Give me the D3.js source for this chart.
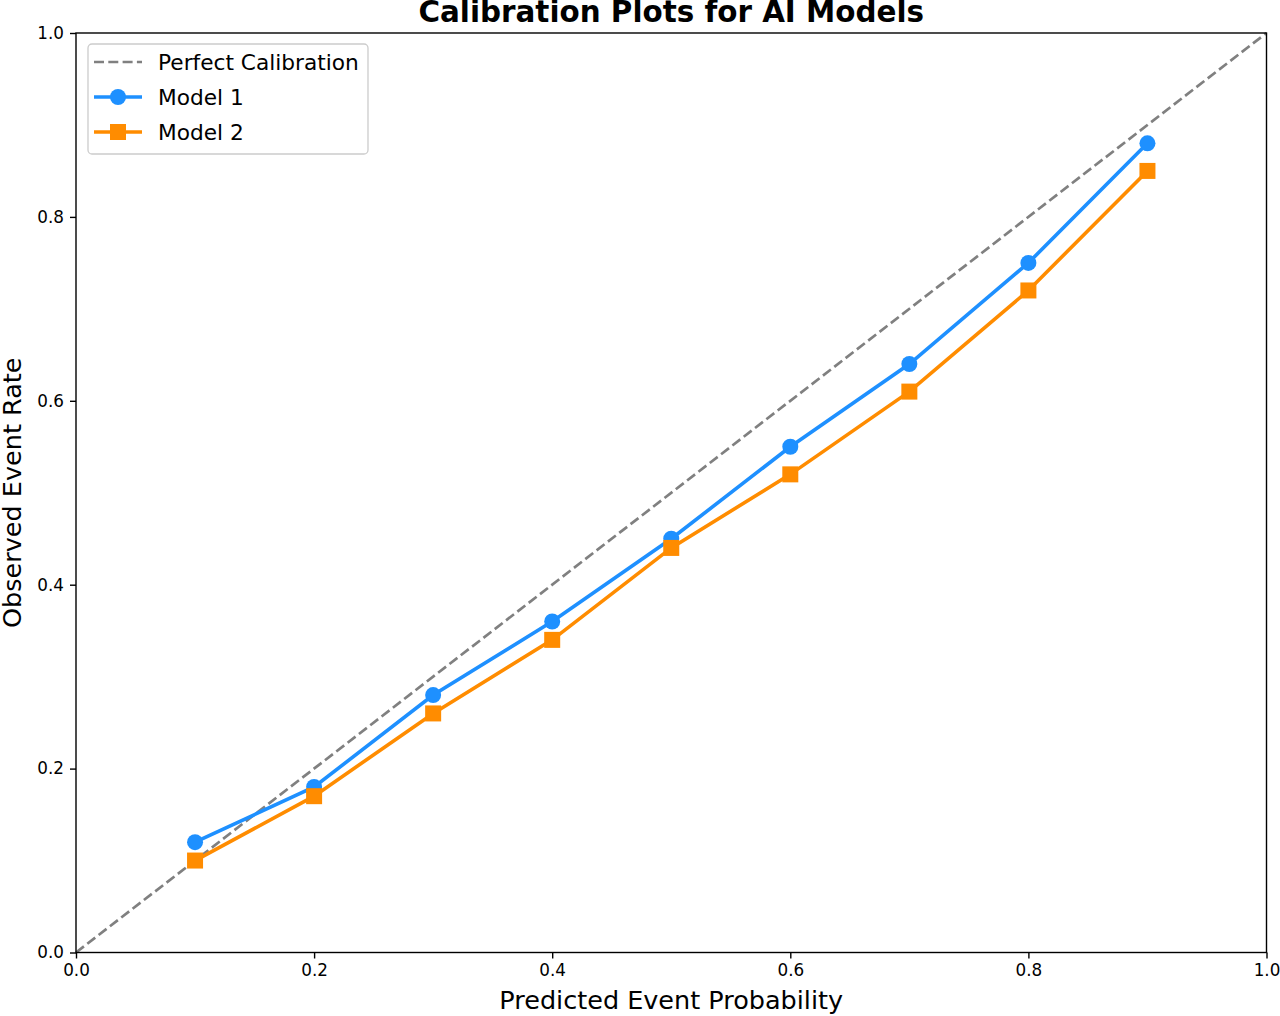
<!DOCTYPE html>
<html>
<head>
<meta charset="utf-8">
<script src="https://cdn.jsdelivr.net/npm/d3@7"></script>
<style>
  body { margin: 0; background: #fff; }
  text { font-family: "DejaVu Sans", sans-serif; }
</style>
</head>
<body>
<div id="chart"></div>
<script>
// calibration bins
const bins = [0.1, 0.2, 0.3, 0.4, 0.5, 0.6, 0.7, 0.8, 0.9];
const model1 = [0.12, 0.18, 0.28, 0.36, 0.45, 0.55, 0.64, 0.75, 0.88];
const model2 = [0.10, 0.17, 0.26, 0.34, 0.44, 0.52, 0.61, 0.72, 0.85];
const perfect = [0, 1];
const tickValues = [0, 0.2, 0.4, 0.6, 0.8, 1.0];

var margin = { top: 33, right: 13.5, bottom: 63.5, left: 76 },
  W = 1280, H = 1016,
  width = W - margin.left - margin.right,
  height = H - margin.top - margin.bottom;

var x = d3.scaleLinear().domain([0, 1]).range([0, width]);
var y = d3.scaleLinear().domain([0, 1]).range([height, 0]);

var svg = d3.select("#chart").append("svg")
  .attr("width", W).attr("height", H);

var g = svg.append("g")
  .attr("transform", "translate(" + margin.left + "," + margin.top + ")");

var line = d3.line().x(d => x(d[0])).y(d => y(d[1]));

// perfect calibration diagonal
g.append("path")
  .datum(perfect.map(v => [v, v]))
  .attr("d", line)
  .attr("fill", "none")
  .attr("stroke", "#808080")
  .attr("stroke-width", 2.7)
  .attr("stroke-dasharray", "10,4.3");

var series = [
  { name: "Model 1", values: model1, color: "#1e90ff", shape: "circle" },
  { name: "Model 2", values: model2, color: "#ff8c00", shape: "square" }
];

series.forEach(function (s) {
  var pts = bins.map((b, i) => [b, s.values[i]]);
  g.append("path")
    .datum(pts)
    .attr("d", line)
    .attr("fill", "none")
    .attr("stroke", s.color)
    .attr("stroke-width", 3.6);
  if (s.shape === "circle") {
    g.selectAll(null).data(pts).enter().append("circle")
      .attr("cx", d => x(d[0])).attr("cy", d => y(d[1]))
      .attr("r", 8).attr("fill", s.color);
  } else {
    g.selectAll(null).data(pts).enter().append("rect")
      .attr("x", d => x(d[0]) - 8).attr("y", d => y(d[1]) - 8)
      .attr("width", 16).attr("height", 16).attr("fill", s.color);
  }
});

// axes
var xAxis = g.append("g")
  .attr("transform", "translate(0," + height + ")")
  .call(d3.axisBottom(x).tickValues(tickValues).tickFormat(d3.format(".1f")).tickSize(6).tickPadding(6));
var yAxis = g.append("g")
  .call(d3.axisLeft(y).tickValues(tickValues).tickFormat(d3.format(".1f")).tickSize(6).tickPadding(6));

[xAxis, yAxis].forEach(function (a) {
  a.select(".domain").remove();
  a.selectAll("line").attr("stroke", "#000").attr("stroke-width", 1.4);
  a.selectAll("text").attr("font-size", 16.8).attr("fill", "#000")
    .style("font-family", "DejaVu Sans");
});

// frame
g.append("rect")
  .attr("width", width).attr("height", height)
  .attr("fill", "none").attr("stroke", "#000").attr("stroke-width", 1.4);

// labels
svg.append("text")
  .attr("x", margin.left + width / 2).attr("y", 1009)
  .attr("text-anchor", "middle").attr("font-size", 25.5)
  .text("Predicted Event Probability");

svg.append("text")
  .attr("transform", "translate(21," + (margin.top + height / 2) + ") rotate(-90)")
  .attr("text-anchor", "middle").attr("font-size", 25.5)
  .text("Observed Event Rate");

svg.append("text")
  .attr("x", margin.left + width / 2).attr("y", 22)
  .attr("text-anchor", "middle").attr("font-size", 29.4).attr("font-weight", "bold")
  .text("Calibration Plots for AI Models");

// legend
var legend = svg.append("g").attr("transform", "translate(88,44)");
legend.append("rect")
  .attr("width", 280).attr("height", 110).attr("rx", 4)
  .attr("fill", "#fff").attr("fill-opacity", 0.8)
  .attr("stroke", "#cccccc").attr("stroke-width", 1.3);

var items = [
  { name: "Perfect Calibration", color: "#808080", dash: "10,4.3", w: 2.7, shape: null },
  series[0], series[1]
];
items.forEach(function (it, i) {
  var row = legend.append("g").attr("transform", "translate(0," + (18 + i * 35) + ")");
  row.append("line")
    .attr("x1", 6).attr("x2", 54)
    .attr("stroke", it.color)
    .attr("stroke-width", it.w || 3.6)
    .attr("stroke-dasharray", it.dash || null);
  if (it.shape === "circle") {
    row.append("circle").attr("cx", 30).attr("r", 8).attr("fill", it.color);
  } else if (it.shape === "square") {
    row.append("rect").attr("x", 22).attr("y", -8).attr("width", 16).attr("height", 16).attr("fill", it.color);
  }
  row.append("text")
    .attr("x", 70).attr("y", 7.5)
    .attr("font-size", 21.7)
    .text(it.name);
});
</script>
</body>
</html>
